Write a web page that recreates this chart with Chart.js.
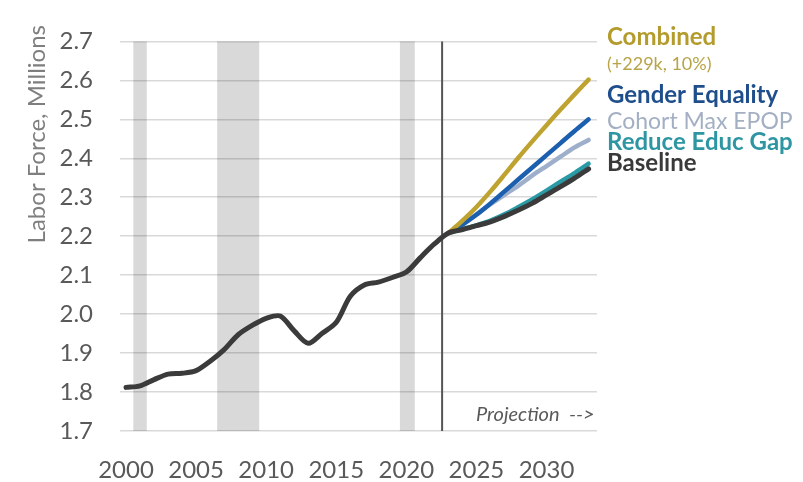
<!DOCTYPE html>
<html>
<head>
<meta charset="utf-8">
<script src="https://cdn.jsdelivr.net/npm/chart.js@4.4.1/dist/chart.umd.min.js"></script>
<style>
  html, body { margin: 0; padding: 0; background: #fff; }
  #wrap { width: 803px; height: 482px; position: relative; }
</style>
</head>
<body>
<div id="wrap"><canvas id="chart"></canvas></div>
<script>
/* Labor force projection chart – history + scenario lines */

const years = [2000, 2001, 2002, 2003, 2004, 2005, 2006, 2007, 2008, 2009,
               2010, 2011, 2012, 2013, 2014, 2015, 2016, 2017, 2018, 2019,
               2020, 2021, 2022, 2023, 2024, 2025, 2026, 2027, 2028, 2029,
               2030, 2031, 2032, 2033];

// history to 2023, then baseline projection
const baseline = [1.812, 1.816, 1.832, 1.846, 1.848, 1.855, 1.879, 1.909, 1.947, 1.971,
                  1.989, 1.995, 1.957, 1.925, 1.951, 1.979, 2.046, 2.075, 2.082, 2.094,
                  2.108, 2.145, 2.180, 2.208, 2.217, 2.227, 2.237, 2.251, 2.267, 2.285,
                  2.306, 2.327, 2.349, 2.373];

const pre = new Array(23).fill(null);   // 2000-2022: scenarios not drawn
const combined = pre.concat([2.208, 2.240, 2.275, 2.315, 2.358, 2.402, 2.444, 2.485, 2.525, 2.564, 2.602]);
const gender   = pre.concat([2.208, 2.230, 2.255, 2.284, 2.315, 2.346, 2.377, 2.408, 2.439, 2.470, 2.500]);
const cohort   = pre.concat([2.208, 2.229, 2.256, 2.282, 2.306, 2.330, 2.356, 2.380, 2.404, 2.428, 2.447]);
const educGap  = pre.concat([2.208, 2.218, 2.228, 2.240, 2.256, 2.275, 2.295, 2.317, 2.340, 2.362, 2.386]);

const xTicks = [2000, 2005, 2010, 2015, 2020, 2025, 2030];
const recessions = [[2000.52, 2001.48], [2006.5, 2009.5], [2019.54, 2020.6]];
const projectionStart = 2022.55;

const GRAY_TXT = '#595959';
const FONT = 'Lato, "Open Sans", sans-serif';

/* ------------------------------------------------------------
   Shading, projection marker and text labels
   ------------------------------------------------------------ */
const decor = {
  id: 'decor',
  beforeDatasetsDraw(chart) {
    const { ctx, chartArea: a, scales: { x } } = chart;
    ctx.save();
    ctx.fillStyle = 'rgba(0,0,0,0.15)';
    recessions.forEach(([s, e]) => {
      const x0 = x.getPixelForValue(s), x1 = x.getPixelForValue(e);
      ctx.fillRect(x0, a.top, x1 - x0, a.bottom - a.top);
    });
    const px = x.getPixelForValue(projectionStart);
    ctx.strokeStyle = '#555555';
    ctx.lineWidth = 2;
    ctx.beginPath();
    ctx.moveTo(px, a.top);
    ctx.lineTo(px, a.bottom);
    ctx.stroke();
    ctx.restore();
  },
  afterDraw(chart) {
    const { ctx } = chart;
    ctx.save();
    ctx.textBaseline = 'alphabetic';
    ctx.textAlign = 'left';

    const label = (txt, y, color, font) => {
      ctx.fillStyle = color;
      ctx.font = font;
      ctx.fillText(txt, 607, y);
    };
    label('Combined',        45,  '#b39b2c', 'bold 24px ' + FONT);
    label('(+229k, 10%)',    70,  '#b8a448', '18px ' + FONT);
    label('Gender Equality', 103, '#1f4e8c', 'bold 24px ' + FONT);
    label('Cohort Max EPOP', 129, '#a3afc3', '23px ' + FONT);
    label('Reduce Educ Gap', 150, '#2e96a3', 'bold 24px ' + FONT);
    label('Baseline',        171, '#3a3a3a', 'bold 24px ' + FONT);

    ctx.font = 'italic 20px ' + FONT;
    ctx.fillStyle = GRAY_TXT;
    ctx.fillText('Projection  -->', 476, 421);

    // y axis title, rotated
    ctx.translate(37, 25);
    ctx.rotate(-Math.PI / 2);
    ctx.textAlign = 'right';
    ctx.textBaseline = 'middle';
    ctx.font = '24px ' + FONT;
    ctx.fillStyle = '#7f7f7f';
    ctx.fillText('Labor Force, Millions', 0, 0);
    ctx.restore();
  },
};

function line(label, data, color, width) {
  return {
    label, data,
    borderColor: color,
    borderWidth: width,
    pointRadius: 0,
    tension: 0.3,
    fill: false,
    borderCapStyle: 'round',
    borderJoinStyle: 'round',
  };
}

new Chart(document.getElementById('chart'), {
  type: 'line',
  data: {
    labels: years,
    datasets: [
      line('Baseline',        baseline.map((v, i) => ({ x: years[i], y: v })), '#3b3b3b', 5),
      line('Combined',        combined.map((v, i) => ({ x: years[i], y: v })), '#bfa330', 4.5),
      line('Gender Equality', gender.map((v, i) => ({ x: years[i], y: v })),   '#1c5faf', 4.5),
      line('Reduce Educ Gap', educGap.map((v, i) => ({ x: years[i], y: v })),  '#2a9aa5', 4.5),
      line('Cohort Max EPOP', cohort.map((v, i) => ({ x: years[i], y: v })),   '#9dafcb', 4.5),
    ],
  },
  options: {
    responsive: true,
    maintainAspectRatio: false,
    animation: false,
    layout: { padding: { left: 0, right: 206, top: 18, bottom: 0 } },
    plugins: { legend: { display: false }, tooltip: { enabled: false } },
    scales: {
      x: {
        type: 'linear',
        min: 1999.57,
        max: 2033.6,
        afterBuildTicks: (s) => { s.ticks = xTicks.map((v) => ({ value: v })); },
        afterFit: (s) => { s.height = 51; },
        grid: { display: false, drawTicks: false },
        border: { display: false },
        ticks: {
          color: GRAY_TXT,
          font: { family: FONT, size: 24 },
          padding: 25,
          maxRotation: 0,
          callback: (v) => String(v),
        },
      },
      y: {
        min: 1.7,
        max: 2.7,
        afterFit: (s) => { s.width = 120; },
        grid: { color: '#d9d9d9', lineWidth: 1.5, drawTicks: false },
        border: { display: false },
        ticks: {
          stepSize: 0.1,
          color: GRAY_TXT,
          font: { family: FONT, size: 24 },
          padding: 27,
          callback: (v) => v.toFixed(1),
        },
      },
    },
  },
  plugins: [decor],
});
</script>
</body>
</html>
